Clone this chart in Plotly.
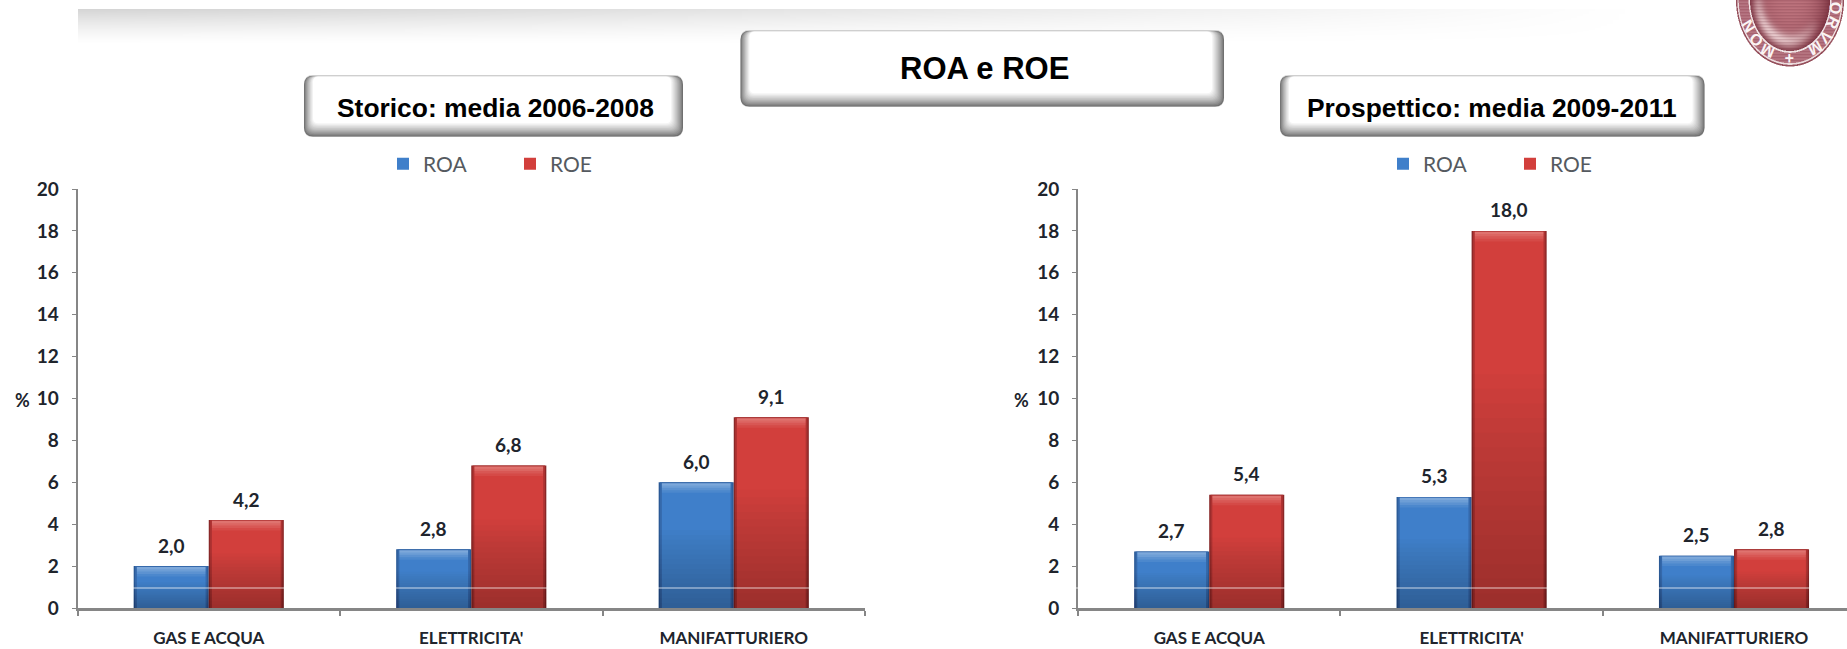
import base64
import math
import struct
import zlib

import plotly.graph_objects as go

# Chart data
categories = ["GAS E ACQUA", "ELETTRICITA'", "MANIFATTURIERO"]
roa_storico = [2.0, 2.8, 6.0]
roe_storico = [4.2, 6.8, 9.1]
roa_prospettico = [2.7, 5.3, 2.5]
roe_prospettico = [5.4, 18.0, 2.8]
y_ticks = list(range(0, 21, 2))

# Page geometry and palette
W, H = 1847, 649
Y_ZERO, Y_TOP = 608, 189
LEFT_X = (77.5, 865.0)
RIGHT_X = (1078.0, 1847.0)
CATEGORY_PX = 262.4
RIGHT_RANGE = [-0.5, (RIGHT_X[1] - RIGHT_X[0]) / CATEGORY_PX - 0.5]
BAR_W = 0.286
AXIS_GREY = "#868686"
TEXT = "#20242c"
CONDENSED = "Lato, Roboto, sans-serif"
HEAD = "Liberation Sans, Arial, sans-serif"
BLUE = dict(edge="#2b5a96", rim="#3569ab", body="#3f7fca", glow="255,255,255")
RED = dict(edge="#8a2828", rim="#ad3231", body="#d23f3c", glow="255,225,220")


def px(x):
    return x / W


def py(y):
    return 1 - y / H


def rounded(x0, y0, x1, y1, r):
    """SVG path of a rounded rectangle, in paper coordinates."""
    p = lambda x, y: f"{px(x):.5f},{py(y):.5f}"
    return (
        f"M{p(x0 + r, y0)} L{p(x1 - r, y0)} Q{p(x1, y0)} {p(x1, y0 + r)} "
        f"L{p(x1, y1 - r)} Q{p(x1, y1)} {p(x1 - r, y1)} L{p(x0 + r, y1)} "
        f"Q{p(x0, y1)} {p(x0, y1 - r)} L{p(x0, y0 + r)} Q{p(x0, y0)} {p(x0 + r, y0)} Z"
    )


def png_uri(w, h, rows):
    """Encode rows of RGBA bytes as a PNG data URI."""
    raw = bytearray()
    for row in rows:
        raw.append(0)
        raw.extend(row)

    def chunk(tag, data):
        body = tag + data
        return struct.pack(">I", len(data)) + body + struct.pack(">I", zlib.crc32(body))

    png = (
        b"\x89PNG\r\n\x1a\n"
        + chunk(b"IHDR", struct.pack(">IIBBBBB", w, h, 8, 6, 0, 0, 0))
        + chunk(b"IDAT", zlib.compress(bytes(raw)))
        + chunk(b"IEND", b"")
    )
    return "data:image/png;base64," + base64.b64encode(png).decode()


def banner_png():
    """Grey band fading to white downwards and towards the right."""
    w, h = 260, 36
    rows = []
    for j in range(h):
        row = bytearray()
        for i in range(w):
            fade_x = 1 - (i / (w - 1)) ** 1.25
            fade_y = (1 - j / (h - 1)) ** 1.35
            g = int(round(255 - 42 * fade_x * fade_y))
            row.extend((g, g, g, 255))
        rows.append(row)
    return png_uri(w, h, rows)


# Seal geometry: clipped by the top edge of the page
SEAL_X, SEAL_A, SEAL_B = 1790.0, 54.0, 66.5
INNER_A, INNER_B = 40.0, 51.0


def mix(c0, c1, t):
    t = max(0.0, min(1.0, t))
    return [c0[k] + (c1[k] - c0[k]) * t for k in range(3)]


def seal_pixel(dx, dy):
    outer = math.hypot(dx / SEAL_A, dy / SEAL_B)
    if outer > 1:
        return (255, 255, 255, 0)
    inner = math.hypot(dx / INNER_A, dy / INNER_B)
    if outer > 0.975:
        col = (150, 80, 92)
    elif outer > 0.95:
        col = (236, 220, 222)
    elif inner > 1.035:
        col = mix((186, 122, 134), (166, 96, 110), (math.sin(dy * 2.1) + 1) / 2)
    elif inner > 1.0:
        col = (240, 228, 229)
    else:
        # Convex field: darker at the rim, with a pale crescent low on the left
        col = mix((192, 118, 128), (128, 54, 68), inner ** 3)
        crescent = math.exp(-(((inner - 0.78) / 0.14) ** 2)) * max(0.0, (dy / INNER_B) * 0.9 - dx / INNER_A * 0.5)
        col = mix(col, (240, 212, 214), crescent * 1.2)
        col = mix(col, (100, 36, 50), 0.24 * (math.sin(dy * 2.1) + 1) / 2)
    return (int(col[0]), int(col[1]), int(col[2]), 255)


def seal_png():
    scale = 2
    w, h = 112 * scale, 68 * scale
    rows = []
    for j in range(h):
        row = bytearray()
        for i in range(w):
            row.extend(seal_pixel((i + 0.5) / scale - 56, (j + 0.5) / scale))
        rows.append(row)
    return png_uri(w, h, rows)


fig = go.Figure()
annotations = []
shapes = []


def add_series(values, side, colors, name, xaxis, yaxis, legend):
    offset = -BAR_W if side == "left" else 0.0
    common = dict(x=categories, xaxis=xaxis, yaxis=yaxis, hoverinfo="skip", showlegend=False)
    # Rim in two tones, then the face of the bar
    fig.add_trace(go.Bar(y=values, width=BAR_W, offset=offset, marker=dict(color=colors["edge"], line_width=0),
                         **common))
    fig.add_trace(go.Bar(y=values, width=BAR_W - 0.010, offset=offset + 0.005,
                         marker=dict(color=colors["rim"], line_width=0), **common))
    fig.add_trace(go.Bar(y=[v - 0.04 for v in values], width=BAR_W - 0.024, offset=offset + 0.012, name=name,
                         marker=dict(color=colors["body"], line_width=0), legend=legend,
                         **{**common, "showlegend": True, "hoverinfo": "name+y"}))
    # Darkening towards the foot of the bar
    for k in range(1, 17):
        fig.add_trace(go.Bar(y=[v * 0.62 * k / 16 for v in values], width=BAR_W, offset=offset,
                             marker=dict(color="rgba(0,0,0,0.016)", line_width=0), **common))
    # Lit bevel along the top, fading downwards
    for depth, alpha in [(0.50, 0.07), (0.38, 0.09), (0.26, 0.11), (0.15, 0.11)]:
        fig.add_trace(go.Bar(y=[depth - 0.04] * len(values), base=[v - depth for v in values],
                             width=BAR_W - 0.024, offset=offset + 0.012,
                             marker=dict(color=f"rgba({colors['glow']},{alpha})", line_width=0), **common))
    for i, v in enumerate(values):
        annotations.append(dict(
            x=i + offset + BAR_W / 2, y=v, xref=xaxis, yref=yaxis, yshift=21, yanchor="middle", xanchor="center",
            text=f"{v:.1f}".replace(".", ","), showarrow=False,
            font=dict(family=CONDENSED, size=19, color=TEXT, weight="bold"),
        ))


add_series(roa_storico, "left", BLUE, "ROA", "x", "y", "legend")
add_series(roe_storico, "right", RED, "ROE", "x", "y", "legend")
add_series(roa_prospettico, "left", BLUE, "ROA", "x2", "y2", "legend2")
add_series(roe_prospettico, "right", RED, "ROE", "x2", "y2", "legend2")


def beveled_box(x0, y0, x1, y1, steps=12):
    """White rounded panel with a soft grey bevel, heaviest at the bottom and right."""
    shapes.append(dict(type="path", path=rounded(x0, y0, x1, y1, 9), xref="paper", yref="paper",
                       fillcolor="#cfcfcf", line_width=0, layer="below"))
    for k in range(steps + 1):
        t = k / steps
        g = int(112 + (255 - 112) * t ** 0.8)
        shapes.append(dict(
            type="path",
            path=rounded(x0 + k * 0.75, y0 + 1 + k * 0.06, x1 - k * 1.0, y1 - 0.5 - k * 1.1, max(9 - k * 0.3, 4)),
            xref="paper", yref="paper", fillcolor=f"rgb({g},{g},{g})", line_width=0, layer="below",
        ))


def heading(text, x, y, size):
    annotations.append(dict(x=px(x), y=py(y), xref="paper", yref="paper", text=text, showarrow=False,
                            xanchor="center", yanchor="middle",
                            font=dict(family=HEAD, size=size, color="#000000", weight="bold")))


beveled_box(740.5, 30, 1224, 107)
beveled_box(304, 75, 683, 137)
beveled_box(1280, 75, 1704.5, 137)
heading("ROA e ROE", 984, 68, 31)
heading("Storico: media 2006-2008", 495, 108, 26.4)
heading("Prospettico: media 2009-2011", 1492, 108, 26.4)

# Unit labels beside the value axes
for x_unit in (22, 1022):
    annotations.append(dict(x=px(x_unit), y=py(400), xref="paper", yref="paper", text="%", showarrow=False,
                            xanchor="center", yanchor="middle",
                            font=dict(family=CONDENSED, size=18, color=TEXT, weight="bold")))

# Thin pale rule running across the lower part of the bars
shapes.append(dict(type="line", xref="paper", yref="paper", x0=px(78), x1=1, y0=py(588), y1=py(588),
                   line=dict(color="rgba(255,255,255,0.75)", width=1), layer="above"))

# Lettering around the seal
for letter, deg in [("M", -28), ("O", -46), ("N", -63), ("+", 0), ("M", 34), ("V", 50), ("R", 67), ("O", 82)]:
    t = math.radians(deg)
    dx, dy = 46.5 * math.sin(t), 58.0 * math.cos(t)
    annotations.append(dict(x=px(SEAL_X + dx), y=py(dy), xref="paper", yref="paper", text=letter,
                            showarrow=False, textangle=math.degrees(math.atan2(dx, -dy)),
                            xanchor="center", yanchor="middle",
                            font=dict(family=HEAD, size=16, color="#fbf4f4", weight="bold")))

x_style = dict(
    type="category", categoryorder="array", categoryarray=categories, tickson="boundaries",
    ticks="outside", ticklen=5, tickwidth=2, tickcolor=AXIS_GREY, showline=True, linecolor=AXIS_GREY, linewidth=3,
    showgrid=False, zeroline=False, ticklabelstandoff=13, tickangle=0, automargin=False,
    tickfont=dict(family=CONDENSED, size=17, color=TEXT, weight="bold"),
)
y_style = dict(
    range=[0, 20], tickmode="array", tickvals=y_ticks, ticks="outside", ticklen=4, tickwidth=1, tickcolor=AXIS_GREY,
    showline=True, linecolor=AXIS_GREY, linewidth=2, showgrid=False, zeroline=False, automargin=False,
    domain=[py(Y_ZERO), py(Y_TOP)], ticklabelstandoff=9,
    tickfont=dict(family=CONDENSED, size=19, color=TEXT, weight="bold"),
)
legend_style = dict(
    orientation="h", xanchor="left", yanchor="middle", y=py(164), font=dict(family=CONDENSED, size=21, color="#555a60"),
    entrywidth=82, entrywidthmode="pixels", bgcolor="rgba(0,0,0,0)", traceorder="normal",
)

fig.update_layout(
    width=W, height=H, margin=dict(l=0, r=0, t=0, b=0), autosize=False, barmode="overlay",
    paper_bgcolor="#ffffff", plot_bgcolor="rgba(0,0,0,0)",
    xaxis={**x_style, "anchor": "y", "domain": [px(LEFT_X[0]), px(LEFT_X[1])], "range": [-0.5, 2.5]},
    xaxis2={**x_style, "anchor": "y2", "domain": [px(RIGHT_X[0]), 1.0], "range": RIGHT_RANGE},
    yaxis={**y_style, "anchor": "x"},
    yaxis2={**y_style, "anchor": "x2"},
    legend={**legend_style, "x": px(383)},
    legend2={**legend_style, "x": px(1383)},
    annotations=annotations, shapes=shapes,
    images=[
        dict(source=banner_png(), xref="paper", yref="paper", x=px(78), y=py(9), sizex=px(1562), sizey=36 / H,
             sizing="stretch", layer="below", xanchor="left", yanchor="top"),
        dict(source=seal_png(), xref="paper", yref="paper", x=px(SEAL_X - 56), y=1, sizex=px(112), sizey=68 / H,
             sizing="stretch", layer="below", xanchor="left", yanchor="top"),
    ],
)

fig.write_html("out.html", config={"displayModeBar": False})
